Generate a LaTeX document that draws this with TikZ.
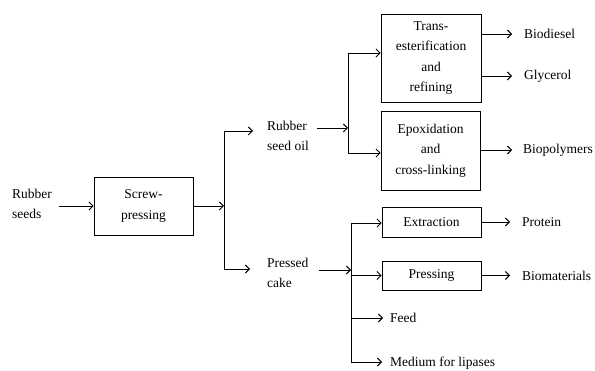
\documentclass[tikz,border=0pt]{standalone}
\usepackage{fontspec}
\setmainfont{Liberation Serif}
\usetikzlibrary{arrows.meta}
\begin{document}
\begin{tikzpicture}[x=1pt,y=-1pt,
  txt/.style={font=\fontsize{13.5}{20.5}\selectfont, inner sep=0pt},
  lbl/.style={txt, align=left, anchor=west},
  box/.style={txt, draw, line width=0.9pt, align=center, minimum width=99pt},
  arr/.style={-{Straight Barb[length=4pt,width=8pt]}, line width=0.9pt},
  ln/.style={line width=0.9pt}]
\useasboundingbox (0,0) rectangle (595,371);
% text labels
\node[lbl] (seeds) at (12,204) {Rubber\\seeds};
\node[lbl] (oil) at (267,136) {Rubber\\seed oil};
\node[lbl] (cake) at (267,273) {Pressed\\cake};
\node[lbl] (biod) at (524,34) {Biodiesel};
\node[lbl] (glyc) at (524,76) {Glycerol};
\node[lbl] (biop) at (523,150) {Biopolymers};
\node[lbl] (prot) at (522,222) {Protein};
\node[lbl] (biom) at (522,276) {Biomaterials};
\node[lbl] (feed) at (390,318) {Feed};
\node[lbl] (med) at (390,363) {Medium for lipases};
% boxes
\node[box, minimum height=58pt] (screw) at (143.5,206) {Screw-\\pressing};
\node[box, minimum width=100pt, minimum height=88pt] (trans) at (431,58) {Trans-\\esterification\\and\\refining};
\node[box, minimum height=79pt] (epox) at (430.5,150.5) {Epoxidation\\and\\cross-linking};
\node[box, minimum height=30pt] (extr) at (431.5,222) {Extraction};
\node[box, minimum height=29pt] (pres) at (431.5,275.5) {Pressing};
% branch coordinates
\coordinate (s1) at (224,131);
\coordinate (s2) at (224,269);
\coordinate (o1) at (348,53);
\coordinate (o2) at (348,153);
\coordinate (c1) at (351,223);
\coordinate (c2) at (351,362);
% seeds to screw
\draw[arr] ([xshift=7pt]seeds.east |- screw.west) -- (screw.west);
\draw[arr] (screw.east) -- (screw.east -| s1);
\draw[ln] (s1) -- (s2);
\draw[arr] (s1) -- ([xshift=-14pt]oil.west |- s1);
\draw[arr] (s2) -- ([xshift=-17pt]cake.west |- s2);
% oil branch
\draw[arr] ([xshift=8pt,yshift=8pt]oil.east) -- ([yshift=8pt]oil.east -| o1);
\draw[ln] (o1) -- (o2);
\draw[arr] (o1) -- (o1 -| trans.west);
\draw[arr] (o2) -- (o2 -| epox.west);
\draw[arr] (trans.east |- biod.west) -- ([xshift=-12pt]biod.west);
\draw[arr] (trans.east |- glyc.west) -- ([xshift=-12pt]glyc.west);
\draw[arr] (epox.east |- biop.west) -- ([xshift=-11pt]biop.west);
% cake branch
\draw[arr] ([xshift=10pt,yshift=3pt]cake.east) -- ([yshift=3pt]cake.east -| c1);
\draw[ln] (c1) -- (c2);
\draw[arr] (c1) -- (c1 -| extr.west);
\draw[arr] (pres.west -| c1) -- (pres.west);
\draw[arr] (c1 |- feed.west) -- ([xshift=-7pt]feed.west);
\draw[arr] (c2) -- ([xshift=-8pt]med.west |- c2);
\draw[arr] (extr.east) -- ([xshift=-12pt]prot.west);
\draw[arr] (pres.east) -- ([xshift=-12pt]biom.west |- pres.east);
\end{tikzpicture}
\end{document}
